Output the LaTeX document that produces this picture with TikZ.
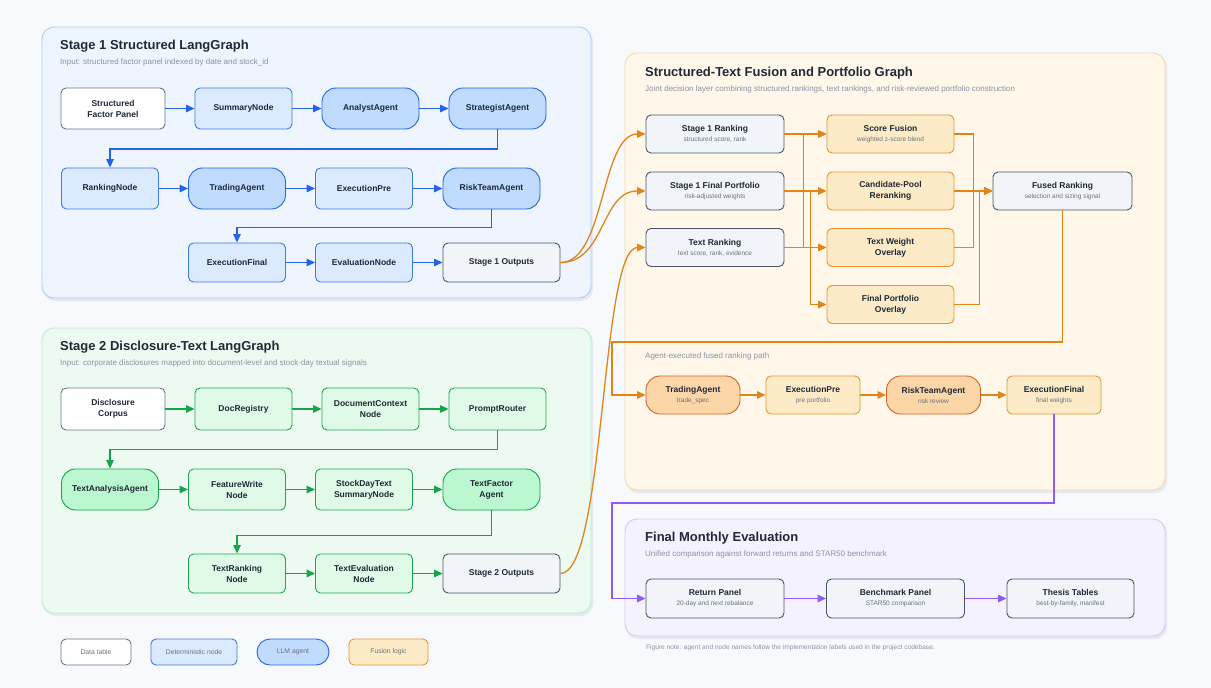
\documentclass[tikz,border=0pt]{standalone}
\usepackage{fontspec}
\setmainfont{Liberation Sans}
\usetikzlibrary{arrows.meta}
\definecolor{bgc}{HTML}{F7F9FC}
\definecolor{ink}{HTML}{1F2937}
\definecolor{subc}{HTML}{6B7280}
\definecolor{capc}{HTML}{8A93A5}
\definecolor{bluefill}{HTML}{DBEAFE}
\definecolor{blueline}{HTML}{3B7BEA}
\definecolor{bluefillb}{HTML}{BFDBFE}
\definecolor{bluelineb}{HTML}{2563EB}
\definecolor{greenfill}{HTML}{DFFBE8}
\definecolor{greenline}{HTML}{22A652}
\definecolor{greenfillb}{HTML}{BBF7D0}
\definecolor{greenlineb}{HTML}{16A34A}
\definecolor{orfill}{HTML}{FDEBC8}
\definecolor{orline}{HTML}{E8952F}
\definecolor{orfillb}{HTML}{FDD6A8}
\definecolor{orlineb}{HTML}{D4622A}
\definecolor{orarrow}{HTML}{E08518}
\definecolor{slatefill}{HTML}{F1F4F9}
\definecolor{slateline}{HTML}{4B5563}
\definecolor{dataline}{HTML}{6B7588}
\definecolor{purline}{HTML}{8B5CF6}
\definecolor{onefill}{HTML}{EEF5FF}
\definecolor{oneline}{HTML}{B2CDF4}
\definecolor{twofill}{HTML}{EDFAF2}
\definecolor{twoline}{HTML}{BDEBCF}
\definecolor{fusfill}{HTML}{FFF7EA}
\definecolor{fusline}{HTML}{F4D8A6}
\definecolor{evfill}{HTML}{F4F2FE}
\definecolor{evline}{HTML}{D5CAF7}
\definecolor{shadc}{HTML}{E6EAF0}
\newcommand{\sublabel}{\fontsize{6.5}{7.5}\selectfont\mdseries\color{subc}}

\begin{document}
\begin{tikzpicture}[x=1pt,y=-1pt,
  panel/.style={rounded corners=12pt,line width=0.9pt},
  ptitle/.style={anchor=west,inner sep=0pt,text=ink,font=\bfseries\fontsize{13}{15}\selectfont},
  pcap/.style={anchor=west,inner sep=0pt,text=capc,font=\fontsize{8}{9.5}\selectfont},
  nbox/.style={draw,rounded corners=5pt,line width=0.9pt,align=center,text=ink,
    font=\bfseries\fontsize{8.5}{11}\selectfont,inner sep=1pt,minimum width=97pt,minimum height=41pt},
  datanode/.style={nbox,fill=white,draw=dataline},
  outnode/.style={nbox,fill=slatefill,draw=slateline},
  bdet/.style={nbox,fill=bluefill,draw=blueline},
  bllm/.style={nbox,fill=bluefillb,draw=bluelineb,rounded corners=14pt},
  gdet/.style={nbox,fill=greenfill,draw=greenline},
  gllm/.style={nbox,fill=greenfillb,draw=greenlineb,rounded corners=14pt},
  fdet/.style={nbox,fill=orfill,draw=orline,minimum height=38pt},
  fllm/.style={nbox,fill=orfillb,draw=orlineb,rounded corners=14pt,minimum height=38pt},
  legnode/.style={font=\fontsize{6.8}{8}\selectfont,text=subc,minimum height=26pt},
  barr/.style={draw=bluelineb,line width=1.3pt,-{Triangle[length=8.5pt,width=7.5pt]}},
  garr/.style={draw=greenlineb,line width=1.3pt,-{Triangle[length=8.5pt,width=7.5pt]}},
  oarr/.style={draw=orarrow,line width=1.3pt,-{Triangle[length=8.5pt,width=7.5pt]}},
  parr/.style={draw=purline,line width=1.3pt,-{Triangle[length=8.5pt,width=7.5pt]}}]

\useasboundingbox (0,0) rectangle (1211,688);
\fill[bgc] (0,0) rectangle (1211,688);

\fill[shadc,rounded corners=12pt] (43,29) rectangle (593,301);
\fill[shadc,rounded corners=12pt] (43,330) rectangle (593,616);
\fill[shadc,rounded corners=12pt] (626,55) rectangle (1167,493);
\fill[shadc,rounded corners=12pt] (626,521) rectangle (1167,639);
\draw[panel,fill=onefill,draw=oneline] (42,27) rectangle (591,298);
\draw[panel,fill=twofill,draw=twoline] (42,328) rectangle (591,613);
\draw[panel,fill=fusfill,draw=fusline] (625,53) rectangle (1165,490);
\draw[panel,fill=evfill,draw=evline] (625,519) rectangle (1165,636);

\node[ptitle] (t1) at (60,46) {Stage 1 Structured LangGraph};
\node[pcap] (c1) at (60,62) {Input: structured factor panel indexed by date and stock\_id};
\node[ptitle] (t2) at (60,347) {Stage 2 Disclosure-Text LangGraph};
\node[pcap] (c2) at (60,363) {Input: corporate disclosures mapped into document-level and stock-day textual signals};
\node[ptitle] (t3) at (645,73) {Structured-Text Fusion and Portfolio Graph};
\node[pcap] (c3) at (645,89) {Joint decision layer combining structured rankings, text rankings, and risk-reviewed portfolio construction};
\node[pcap] (c3b) at (645,356) {Agent-executed fused ranking path};
\node[ptitle] (t4) at (645,538) {Final Monthly Evaluation};
\node[pcap] (c4) at (645,554) {Unified comparison against forward returns and STAR50 benchmark};
\node[pcap,font=\fontsize{6.6}{8}\selectfont] (note) at (646,648) {Figure note: agent and node names follow the implementation labels used in the project codebase.};

\node[datanode,minimum width=104pt] (sfp) at (113,108.5) {Structured\\Factor Panel};
\node[bdet] (summ) at (243.5,108.5) {SummaryNode};
\node[bllm] (analyst) at (370.5,108.5) {AnalystAgent};
\node[bllm] (strat) at (497.5,108.5) {StrategistAgent};
\node[bdet] (rank) at (110,188.5) {RankingNode};
\node[bllm] (trade) at (237,188.5) {TradingAgent};
\node[bdet] (execpre) at (364,188.5) {ExecutionPre};
\node[bllm] (risk) at (491.5,188.5) {RiskTeamAgent};
\node[bdet,minimum height=39pt] (execfin) at (237,262.5) {ExecutionFinal};
\node[bdet,minimum height=39pt] (evalnode) at (364,262.5) {EvaluationNode};
\node[outnode,minimum width=117pt,minimum height=39pt] (s1out) at (501.5,262.5) {Stage 1 Outputs};

\draw[barr] (sfp) -- (summ);
\draw[barr] (summ) -- (analyst);
\draw[barr] (analyst) -- (strat);
\draw[barr] (strat.south) -- ++(0,19.5) -| (rank.north);
\draw[barr] (rank) -- (trade);
\draw[barr] (trade) -- (execpre);
\draw[barr] (execpre) -- (risk);
\draw[barr] (risk.south) -- ++(0,18) -| (execfin.north);
\draw[barr] (execfin) -- (evalnode);
\draw[barr] (evalnode) -- (s1out);

\node[datanode,minimum width=104pt,minimum height=42pt] (disc) at (113,409) {Disclosure\\Corpus};
\node[gdet,minimum height=42pt] (docreg) at (243.5,409) {DocRegistry};
\node[gdet,minimum height=42pt] (docctx) at (370.5,409) {DocumentContext\\Node};
\node[gdet,minimum height=42pt] (prompt) at (497.5,409) {PromptRouter};
\node[gllm] (textanal) at (110,489.5) {TextAnalysisAgent};
\node[gdet] (featw) at (237,489.5) {FeatureWrite\\Node};
\node[gdet] (stockday) at (364,489.5) {StockDayText\\SummaryNode};
\node[gllm] (textfac) at (491.5,489.5) {TextFactor\\Agent};
\node[gdet,minimum height=39pt] (textrk) at (237,573.5) {TextRanking\\Node};
\node[gdet,minimum height=39pt] (texteval) at (364,573.5) {TextEvaluation\\Node};
\node[outnode,minimum width=117pt,minimum height=39pt] (s2out) at (501.5,573.5) {Stage 2 Outputs};

\draw[garr] (disc) -- (docreg);
\draw[garr] (docreg) -- (docctx);
\draw[garr] (docctx) -- (prompt);
\draw[garr] (prompt.south) -- ++(0,19) -| (textanal.north);
\draw[garr] (textanal) -- (featw);
\draw[garr] (featw) -- (stockday);
\draw[garr] (stockday) -- (textfac);
\draw[garr] (textfac.south) -- ++(0,25) -| (textrk.north);
\draw[garr] (textrk) -- (texteval);
\draw[garr] (texteval) -- (s2out);

\node[outnode,minimum width=138pt,minimum height=38pt] (s1rank) at (715,134) {Stage 1 Ranking\\[-1pt]{\sublabel structured score, rank}};
\node[outnode,minimum width=138pt,minimum height=38pt] (s1port) at (715,191) {Stage 1 Final Portfolio\\[-1pt]{\sublabel risk-adjusted weights}};
\node[outnode,minimum width=138pt,minimum height=38pt] (txtrank) at (715,247.5) {Text Ranking\\[-1pt]{\sublabel text score, rank, evidence}};
\node[fdet,minimum width=127pt] (fuse) at (890.5,134) {Score Fusion\\[-1pt]{\sublabel weighted z-score blend}};
\node[fdet,minimum width=127pt] (cand) at (890.5,191) {Candidate-Pool\\Reranking};
\node[fdet,minimum width=127pt] (txtw) at (890.5,247.5) {Text Weight\\Overlay};
\node[fdet,minimum width=127pt] (portov) at (890.5,304.5) {Final Portfolio\\Overlay};
\node[outnode,minimum width=139pt,minimum height=38pt] (fused) at (1062.5,191) {Fused Ranking\\[-1pt]{\sublabel selection and sizing signal}};

\draw[oarr] (s1out.east) .. controls +(45,0) and +(-45,0) .. (s1rank.west);
\draw[oarr] (s1out.east) .. controls +(45,0) and +(-45,0) .. (s1port.west);
\draw[oarr] (s2out.east) .. controls +(45,0) and +(-45,0) .. (txtrank.west);

\draw[oarr] (s1rank) -- (fuse);
\draw[oarr] (s1port) -- (cand);
\draw[oarr] (txtrank) -- (txtw);
\draw[oarr] (txtrank.east) -- ++(19,0) |- (fuse.west);
\draw[oarr] (s1port.east) -- ++(26,0) |- (portov.west);
\draw[oarr] (fuse.east) -- ++(19,0) |- (fused.west);
\draw[oarr] (txtw.east) -- ++(19,0) |- (fused.west);
\draw[oarr] (portov.east) -- ++(25,0) |- (fused.west);
\draw[oarr] (cand) -- (fused);

\node[fllm,minimum width=94pt] (ftrade) at (693,395) {TradingAgent\\[-1pt]{\sublabel trade\_spec}};
\node[fdet,minimum width=94pt] (fpre) at (813,395) {ExecutionPre\\[-1pt]{\sublabel pre portfolio}};
\node[fllm,minimum width=94pt] (frisk) at (933.5,395) {RiskTeamAgent\\[-1pt]{\sublabel risk review}};
\node[fdet,minimum width=94pt] (ffinal) at (1054,395) {ExecutionFinal\\[-1pt]{\sublabel final weights}};

\draw[oarr] (fused.south) |- (612,342) |- (ftrade.west);
\draw[oarr] (ftrade) -- (fpre);
\draw[oarr] (fpre) -- (frisk);
\draw[oarr] (frisk) -- (ffinal);

\node[outnode,minimum width=138pt,minimum height=39pt] (ret) at (715,598.5) {Return Panel\\[-1pt]{\sublabel 20-day and next rebalance}};
\node[outnode,minimum width=138pt,minimum height=39pt] (bench) at (895.5,598.5) {Benchmark Panel\\[-1pt]{\sublabel STAR50 comparison}};
\node[outnode,minimum width=127pt,minimum height=39pt] (thesis) at (1070.5,598.5) {Thesis Tables\\[-1pt]{\sublabel best-by-family, manifest}};

\draw[parr] (ffinal.south) |- (612,503) |- (ret.west);
\draw[parr] (ret) -- (bench);
\draw[parr] (bench) -- (thesis);

\node[datanode,legnode,minimum width=70pt] (lgdata) at (96,652) {Data table};
\node[bdet,legnode,minimum width=86pt] (lgdet) at (194,652) {Deterministic node};
\node[bllm,legnode,minimum width=72pt,rounded corners=13pt] (lgllm) at (293,652) {LLM agent};
\node[fdet,legnode,minimum width=79pt] (lgfus) at (388.5,652) {Fusion logic};
\end{tikzpicture}
\end{document}
